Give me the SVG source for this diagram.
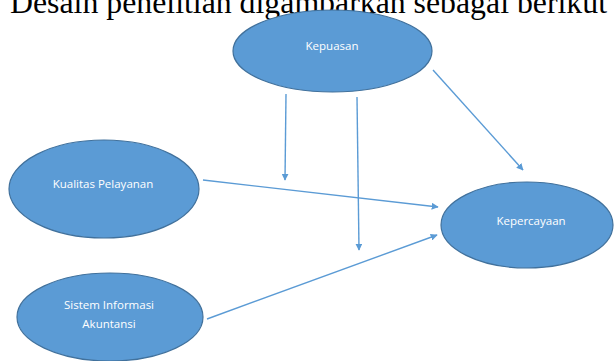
<svg xmlns="http://www.w3.org/2000/svg" width="614" height="361" viewBox="0 0 614 361">
<style>
.node ellipse{fill:#5B9BD5;stroke:#41719C;stroke-width:1.2}
.node text{fill:#ffffff;font-family:"Open Sans","Liberation Sans",sans-serif;font-size:11.5px;text-anchor:middle;dominant-baseline:central}
.edge{stroke:#5B9BD5;stroke-width:1.4;fill:none;marker-end:url(#ah)}
.title{font-family:"Liberation Serif","Times New Roman",serif;font-size:32px;fill:#000}
</style>
<defs>
<marker id="ah" viewBox="0 0 10 10" refX="9" refY="5" markerWidth="7" markerHeight="7" markerUnits="userSpaceOnUse" orient="auto">
<path d="M0,0 L10,5 L0,10 z" fill="#5B9BD5"/>
</marker>
</defs>
<rect width="614" height="361" fill="#ffffff"/>
<text class="title" x="10" y="13" textLength="597" lengthAdjust="spacingAndGlyphs">Desain penelitian digambarkan sebagai berikut</text>
<g id="connectors">
<line class="edge" x1="286" y1="94" x2="285" y2="180"/>
<line class="edge" x1="357" y1="97" x2="359" y2="250"/>
<line class="edge" x1="433" y1="70" x2="523" y2="170"/>
<line class="edge" x1="203" y1="180" x2="438" y2="207"/>
<line class="edge" x1="207" y1="319" x2="437" y2="235"/>
</g>
<g id="kepuasan" class="node">
<ellipse cx="332.5" cy="51" rx="99.5" ry="41"/>
<text x="332" y="45">Kepuasan</text>
</g>
<g id="kualitas-pelayanan" class="node">
<ellipse cx="104" cy="189" rx="95" ry="49"/>
<text x="103" y="183">Kualitas Pelayanan</text>
</g>
<g id="sistem-informasi-akuntansi" class="node">
<ellipse cx="110" cy="317" rx="93" ry="44"/>
<text x="109" y="304">Sistem Informasi</text>
<text x="109" y="323">Akuntansi</text>
</g>
<g id="kepercayaan" class="node">
<ellipse cx="527" cy="225" rx="86" ry="43"/>
<text x="531" y="220">Kepercayaan</text>
</g>
</svg>
